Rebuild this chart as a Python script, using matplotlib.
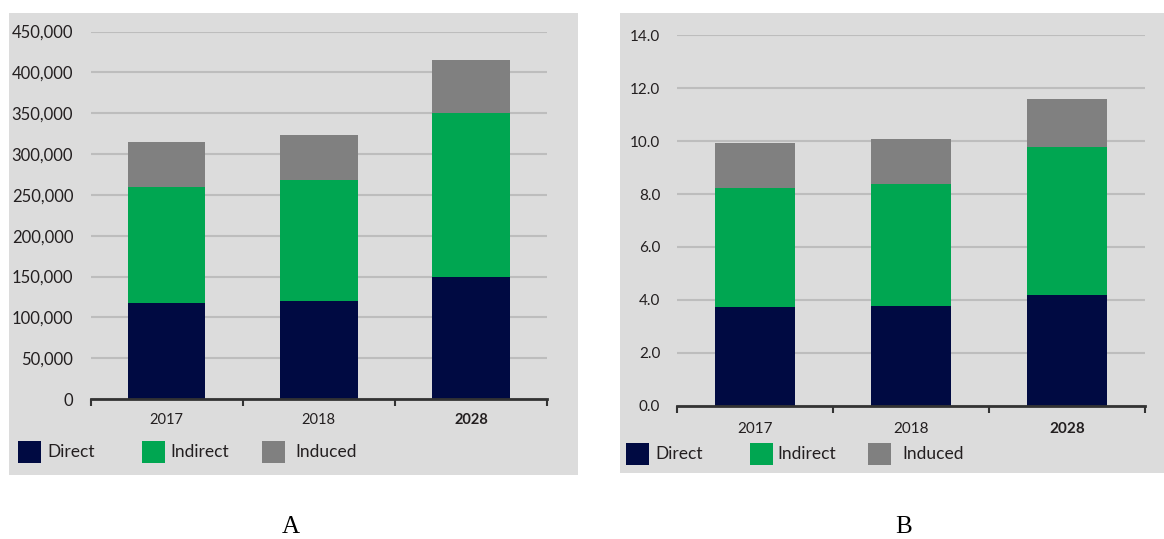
import matplotlib
matplotlib.use("Agg")
import matplotlib.pyplot as plt
from matplotlib.patches import Rectangle
from matplotlib.ticker import FuncFormatter
import numpy as np

# data
years = ["2017", "2018", "2028"]
series = ["Direct", "Indirect", "Induced"]
colors = ["#000a42", "#00a651", "#808080"]

# panel A (jobs)
a_direct = [117800, 120300, 148900]
a_indirect = [141700, 148400, 201000]
a_induced = [54700, 55100, 64800]
a_ticks = [0, 50000, 100000, 150000, 200000, 250000, 300000, 350000, 400000, 450000]

# panel B
b_direct = [3.73, 3.76, 4.19]
b_indirect = [4.49, 4.60, 5.59]
b_induced = [1.72, 1.73, 1.80]
b_ticks = [0, 2, 4, 6, 8, 10, 12, 14]

W, H = 1164, 539
BG = "#dcdcdc"
TXT = "#231f20"

plt.rcParams['font.family'] = ['Lato', 'DejaVu Sans']

fig = plt.figure(figsize=(W / 100, H / 100), dpi=100)
fig.patch.set_facecolor("white")


def px_box(x0, y0, x1, y1):
    # pixel box (top-left origin) -> figure fraction rect
    return [x0 / W, 1 - y1 / H, (x1 - x0) / W, (y1 - y0) / H]


def panel_bg(x0, y0, x1, y1):
    l, b, w, h = px_box(x0, y0, x1, y1)
    fig.patches.append(Rectangle((l, b), w, h, transform=fig.transFigure,
                                 facecolor=BG, edgecolor="none", zorder=-1))


def stacked(ax, vals, ticks, fmt, ysize, ypad, xsize, xpad):
    x = np.arange(len(years))
    bottom = np.zeros(len(years))
    for v, c in zip(vals, colors):
        ax.bar(x, v, width=0.51, bottom=bottom, color=c, linewidth=0, zorder=3)
        bottom += np.array(v)
    ax.set_facecolor("none")
    ax.set_xlim(-0.5, 2.5)
    ax.set_ylim(ticks[0], ticks[-1])
    ax.set_yticks(ticks)
    ax.yaxis.set_major_formatter(FuncFormatter(fmt))
    ax.grid(axis="y", color="#bdbdbd", linewidth=1.5, zorder=1)
    ax.set_axisbelow(True)
    for s in ["left", "right", "top"]:
        ax.spines[s].set_visible(False)
    ax.spines["bottom"].set_color("#333333")
    ax.spines["bottom"].set_linewidth(2)
    ax.spines["bottom"].set_zorder(4)
    ax.tick_params(axis="y", length=0, labelsize=ysize, labelcolor=TXT, pad=ypad)
    ax.set_xticks(x)
    ax.set_xticklabels(years)
    ax.set_xticks([-0.5, 0.5, 1.5, 2.5], minor=True)
    ax.tick_params(axis="x", which="major", length=0, labelsize=xsize,
                   labelcolor=TXT, pad=xpad)
    ax.tick_params(axis="x", which="minor", length=5, width=1.5, color="#333333")
    ax.get_xticklabels()[2].set_fontweight("bold")


def legend_row(items):
    # items: (patch_left_px, text_left_px, row_centre_px)
    for (px, tx, yc), name, c in items:
        l, b, w, h = px_box(px, yc - 11, px + 23, yc + 11)
        fig.patches.append(Rectangle((l, b), w, h, transform=fig.transFigure,
                                     facecolor=c, edgecolor="none", zorder=2))
        fig.text(tx / W, 1 - yc / H, name, fontsize=12.5, color=TXT,
                 va="center", ha="left")


# panel A
panel_bg(9, 13, 578, 475)
axA = fig.add_axes(px_box(90.6, 31.6, 547, 399))
stacked(axA, [a_direct, a_indirect, a_induced], a_ticks,
        lambda v, p: f"{int(v):,}", 12, 12.5, 10.5, 10)
legend_row([((18, 47, 452), series[0], colors[0]),
            ((142, 170, 452), series[1], colors[1]),
            ((262, 295, 452), series[2], colors[2])])
fig.text(291 / W, 1 - 527 / H, "A", fontsize=18, family="Liberation Serif",
         ha="center", va="center", color="black")

# panel B
panel_bg(620, 13, 1164, 473)
axB = fig.add_axes(px_box(677, 35.4, 1145, 405.5))
stacked(axB, [b_direct, b_indirect, b_induced], b_ticks,
        lambda v, p: f"{v:.1f}", 11, 12, 11, 12)
legend_row([((626, 655, 454), series[0], colors[0]),
            ((750, 777, 454), series[1], colors[1]),
            ((868, 902, 454), series[2], colors[2])])
fig.text(904 / W, 1 - 527 / H, "B", fontsize=18, family="Liberation Serif",
         ha="center", va="center", color="black")

fig.savefig("out.png", dpi=100)
